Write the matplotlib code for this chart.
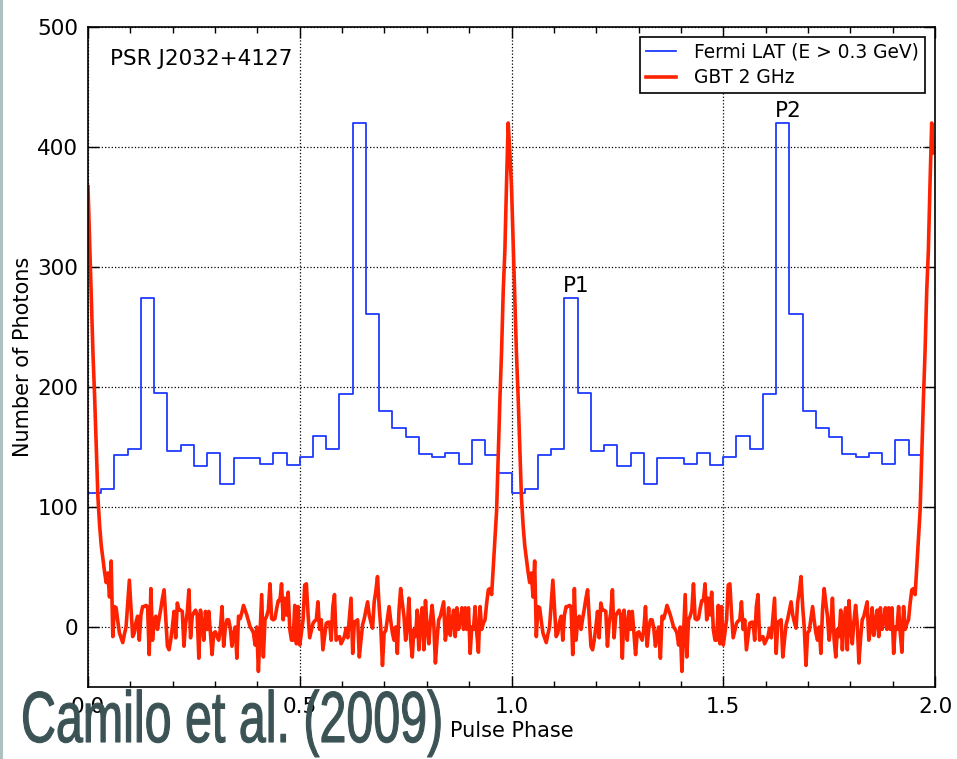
import numpy as np
import matplotlib
matplotlib.use('Agg')
import matplotlib.pyplot as plt
from matplotlib import patheffects
from matplotlib.transforms import Affine2D
from matplotlib.ticker import MultipleLocator

# Fermi LAT light curve, 32 phase bins over one rotation
fermi_counts = [112, 115, 143, 148, 274, 195, 147, 152, 134, 145, 119, 141, 141, 136, 145, 135,
                142, 159, 148, 194, 420, 261, 180, 166, 158, 144, 142, 145, 136, 156, 143, 128]

# GBT 2 GHz radio profile, 256 phase samples over one rotation (scaled)
gbt_profile = [
    367, 320, 272, 228, 192, 150, 108, 85, 68, 57, 46, 37, 45, 25, 55, -8,
    17, 16, 5, -5, -9, -13, -6, 0, 20, 39, 15, -8, -5, 4, 9, -11,
    10, 17, 17, 18, 17, -23, 32, -11, 5, 9, -2, 7, 15, 24, 31, 8,
    -16, -19, -11, 0, 13, -9, 20, 14, 14, 13, -16, 3, 12, 31, -9, 9,
    12, 14, 10, -26, 14, 2, -11, 13, -2, 13, -5, -23, -5, -4, -8, -11,
    -2, 17, -16, -1, 6, 6, -1, -16, -6, 0, -26, 9, 7, 12, 18, 14,
    10, 5, 0, -2, -5, -15, 0, -37, -5, 27, -25, 6, 9, 14, 36, 7,
    6, 7, 15, 22, 22, 36, 6, 24, 10, 29, -2, -11, -11, 18, -14, 17,
    -15, -5, 6, 35, 36, 11, -9, -3, 3, 5, 6, 21, -2, 6, -19, -8,
    3, 4, 4, -11, 17, 27, -11, -9, -8, -14, -11, -8, -1, -9, 8, 24,
    -22, 4, 5, 6, -25, -11, 2, 7, 14, 21, 10, 4, -1, 21, 30, 42,
    17, -1, -32, -5, -3, 7, 17, 5, -5, -11, 0, -22, 14, 32, 20, 9,
    -11, 0, 24, -10, -25, -2, -8, 14, -19, 5, 16, -19, 22, -2, -14, 5,
    18, 3, -30, -10, 6, 9, 15, 21, -11, -2, 16, -7, 4, 14, -8, 16,
    -2, 4, 16, -2, 16, -2, 16, -22, 0, -2, 17, -5, -21, 17, -2, 3,
    6, 20, 31, 32, 27, 50, 72, 97, 145, 190, 230, 280, 314, 370, 420, 395,
]

# two rotations shown
n_f = len(fermi_counts)
fermi_phase = np.arange(2 * n_f) / n_f
fermi_y = np.tile(fermi_counts, 2)

n_g = len(gbt_profile)
gbt_phase = np.arange(2 * n_g) / n_g
gbt_y = np.tile(gbt_profile, 2)


class Squeeze(patheffects.AbstractPathEffect):
    """Narrow the glyphs horizontally around the text's left edge,
    with a thin outline to thicken the strokes."""

    def __init__(self, sx, lw=0.0):
        super().__init__()
        self.sx = sx
        self.lw = lw

    def draw_path(self, renderer, gc, tpath, affine, rgbFace=None):
        x0 = affine.get_matrix()[0, 2]
        squeeze = Affine2D().translate(-x0, 0).scale(self.sx, 1).translate(x0, 0)
        gc0 = renderer.new_gc()
        gc0.copy_properties(gc)
        gc0.set_linewidth(self.lw)
        gc0.set_foreground(rgbFace)
        gc0.set_joinstyle('round')
        renderer.draw_path(gc0, tpath, affine + squeeze, rgbFace)
        gc0.restore()


fig = plt.figure(figsize=(9.57, 7.59), dpi=100)
ax = fig.add_axes([88 / 957, 72 / 759, 847 / 957, 660 / 759])

ax.step(fermi_phase, fermi_y, where='post', color='#1f3cff', lw=1.3,
        label='Fermi LAT (E > 0.3 GeV)')
ax.plot(gbt_phase, gbt_y, color='#ff2200', lw=2.6, label='GBT 2 GHz')

ax.set_xlim(0, 2)
ax.set_ylim(-50, 500)
ax.set_xticks(np.arange(0, 2.01, 0.5))
ax.xaxis.set_minor_locator(MultipleLocator(0.1))
ax.set_yticks(range(0, 501, 100))
ax.tick_params(which='both', direction='in', top=True, right=True, labelsize=15.5, pad=7)
ax.tick_params(which='major', length=8, width=1)
ax.tick_params(which='minor', length=4, width=1)
for s in ax.spines.values():
    s.set_linewidth(1.2)
ax.grid(True, which='major', color='black', ls=':', lw=0.9)

ax.set_xlabel('Pulse Phase', fontsize=15, labelpad=3)
ax.set_ylabel('Number of Photons', fontsize=15, labelpad=3)

ax.text(0.026, 0.942, 'PSR J2032+4127', transform=ax.transAxes, fontsize=15.5,
        va='baseline')
ax.text(1.152, 279, 'P1', fontsize=15.5, ha='center', va='baseline')
ax.text(1.653, 425, 'P2', fontsize=15.5, ha='center', va='baseline')

leg = ax.legend(loc='upper right', fontsize=13.4, fancybox=False, framealpha=1,
                edgecolor='black', borderpad=0.3, labelspacing=0.35,
                handlelength=1.6, handletextpad=1.0, borderaxespad=0.55)
leg.get_frame().set_linewidth(1.2)

# citation overlay
fig.text(21 / 957, 17 / 759, 'Camilo et al. (2009)', fontsize=52,
         family='Liberation Sans', color='#3c5355', ha='left', va='baseline',
         path_effects=[Squeeze(0.67, lw=0.8)], zorder=10)

fig.add_artist(plt.Rectangle((0, 0), 2.5 / 957, 1, transform=fig.transFigure,
                             color='#adc1c1', lw=0))

fig.savefig('out.png', dpi=100)
